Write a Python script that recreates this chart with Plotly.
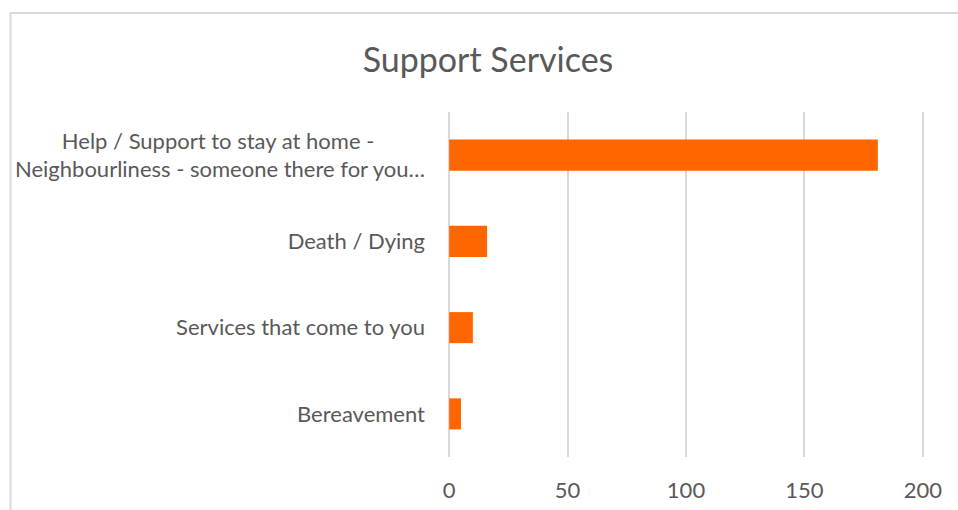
import plotly.graph_objects as go

# Survey responses: support services mentioned
NBSP = "\u00a0"
categories = [
    "Bereavement",
    "Services that come to you",
    "Death / Dying",
    "Help / Support to stay at home -" + NBSP * 9
    + "<br>Neighbourliness - someone there for you…",
]
counts = [5, 10, 16, 181]
x_ticks = [0, 50, 100, 150, 200]

BAR_COLOR = "#FF6600"
TEXT_COLOR = "#595959"
GRID_COLOR = "#D9D9D9"
FONT = "Lato"

fig = go.Figure(
    go.Bar(
        y=categories,
        x=counts,
        orientation="h",
        marker=dict(color=BAR_COLOR, line=dict(width=0)),
        hoverinfo="x+y",
    )
)

# small padding so the 0 and 200 gridlines are drawn
pad = 0.5
px_per_unit = (923 - 449) / 200
left = 449 - pad * px_per_unit
right = 923 + pad * px_per_unit

fig.update_layout(
    width=958,
    height=510,
    margin=dict(l=left, r=958 - right, t=112, b=53, autoexpand=False),
    paper_bgcolor="white",
    plot_bgcolor="white",
    bargap=0.64,
    showlegend=False,
    font=dict(family=FONT, color=TEXT_COLOR, size=22),
    title=dict(
        text="Support Services",
        font=dict(family=FONT, size=34, color=TEXT_COLOR),
        x=488 / 958,
        xref="container",
        xanchor="center",
        y=1 - 60 / 510,
        yref="container",
        yanchor="middle",
    ),
    xaxis=dict(
        range=[-pad, 200 + pad],
        tickvals=x_ticks,
        showgrid=True,
        gridcolor=GRID_COLOR,
        gridwidth=2,
        zeroline=False,
        showline=False,
        ticks="",
        ticklabelstandoff=18,
        tickfont=dict(family=FONT, size=22, color=TEXT_COLOR),
        automargin=False,
        fixedrange=True,
    ),
    yaxis=dict(
        showgrid=False,
        zeroline=False,
        showline=False,
        ticks="",
        ticklabelstandoff=22,
        tickfont=dict(family=FONT, size=22, color=TEXT_COLOR),
        automargin=False,
        fixedrange=True,
    ),
    shapes=[
        # chart-area frame
        dict(
            type="rect",
            xref="paper",
            yref="paper",
            x0=(10 - left) / (right - left),
            x1=2,
            y0=-1,
            y1=(510 - 13 - 53) / 345,
            line=dict(color="#D9D9D9", width=2),
            fillcolor="rgba(0,0,0,0)",
            layer="below",
        )
    ],
)

fig.write_html("out.html")
